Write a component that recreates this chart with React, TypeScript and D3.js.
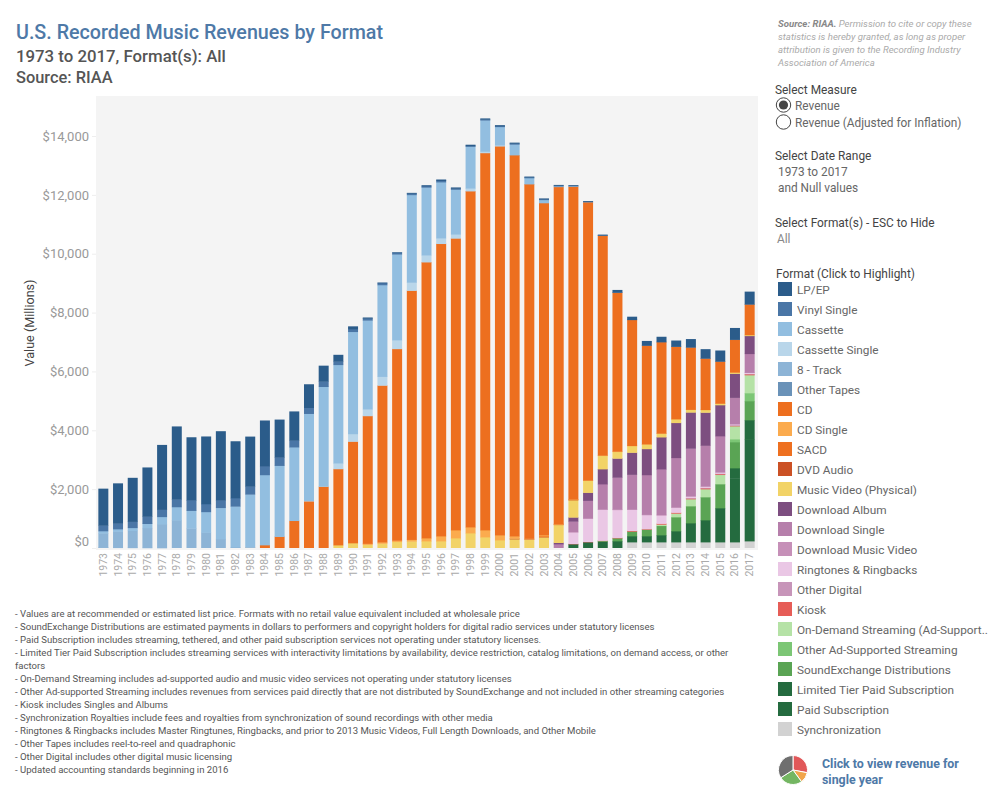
import * as d3 from 'd3';
import { useEffect, useRef } from 'react';

const FONT = 'Roboto, "Noto Sans", sans-serif';

const years = d3.range(1973, 2018).map(String);

// zero-fill the years before a format existed
const since = (year: number, vals: number[]) => [
  ...new Array(year - 1973).fill(0),
  ...vals,
  ...new Array(Math.max(0, 2018 - year - vals.length)).fill(0),
];

const lpEp = [1246, 1356, 1485, 1663, 2195, 2473, 2136, 2290, 2342, 1925, 1689, 1548, 1281, 983, 793, 532, 220, 86, 29, 13, 11, 18, 25, 37, 33, 34, 32, 28, 27, 21, 22, 19, 14, 16, 23, 80, 100, 150, 170, 200, 270, 306, 362, 390, 420];
const vinylSingle = [190, 194, 211, 245, 245, 260, 354, 269, 256, 283, 269, 298, 281, 228, 203, 180, 116, 94, 64, 66, 51, 47, 46, 48, 35, 26, 28, 26, 31, 24, 22, 20, 13, 10, 4, 3, 3, 3, 5, 5, 5, 5, 6, 6, 6];
const cassette = [76, 87, 98, 146, 249, 450, 604, 705, 1062, 1384, 1811, 2384, 2412, 2500, 2960, 3385, 3345, 3472, 3019, 3116, 2916, 2977, 2304, 1905, 1523, 1420, 1062, 626, 363, 209, 108, 24, 13, 1, 3, 1];
const cassetteSingle = since(1987, [14, 9, 194, 257, 230, 298, 299, 274, 236, 189, 134, 94, 48, 32]);
const eightTrack = [489, 549, 583, 678, 811, 948, 669, 526, 309, 35];
const otherTapes = [16, 11, 8, 5, 3];
const cd = since(1983, [17, 103, 390, 930, 1594, 2090, 2588, 3451, 4338, 5326, 6511, 8465, 9377, 9935, 9915, 11416, 12816, 13215, 12949, 12044, 11283, 11447, 10630, 9450, 7470, 5400, 4280, 3350, 3105, 2459, 2119, 1745, 1428, 1108, 1040]);
const cdSingle = since(1991, [35, 45, 45, 56, 102, 170, 272, 204, 238, 170, 79, 20, 36, 15, 10, 8, 12, 12, 3, 3, 3, 3, 3, 3, 3, 3, 3]);
const sacd = since(2003, [26, 16, 11, 3]);
const dvdAudio = since(2001, [20, 9, 8, 6, 3, 3]);
const musicVideo = since(1989, [102, 172, 118, 157, 214, 231, 238, 238, 340, 510, 374, 272, 306, 295, 374, 607, 590, 410, 453, 226, 227, 159, 125, 125, 90, 90, 50, 40, 30]);
const downloadAlbum = since(2004, [46, 135, 272, 510, 645, 748, 884, 1088, 1190, 1224, 1122, 1054, 816, 610]);
const downloadSingle = since(2004, [138, 362, 600, 850, 1087, 1178, 1349, 1553, 1677, 1620, 1382, 1224, 895, 640]);
const downloadMusicVideo = since(2005, [2, 10, 15, 15, 15, 12, 12, 12, 8, 8, 6, 4, 2]);
const ringtones = since(2005, [400, 790, 1054, 950, 714, 476, 283, 170, 50, 40, 40, 30, 30]);
const otherDigital = since(2013, [20, 20, 20, 20, 20]);
const kiosk = since(2005, [10, 10, 10, 12, 25, 15, 30, 30, 25, 30, 25, 20, 30]);
const onDemand = since(2011, [45, 125, 238, 272, 317, 442, 612]);
const otherAd = since(2016, [100, 272]);
const soundExchange = since(2007, [20, 100, 159, 227, 317, 476, 578, 782, 816, 884, 646]);
const limitedTier = since(2016, [350, 650]);
const paidSubscription = since(2005, [136, 204, 226, 238, 204, 204, 238, 374, 646, 748, 1156, 2165, 3463]);
const synchronization = since(2009, [204, 204, 204, 204, 204, 204, 204, 204, 238]);

const formats = [
  { name: 'LP/EP', color: '#2b5c8a', vals: lpEp },
  { name: 'Vinyl Single', color: '#4a76a6', vals: vinylSingle },
  { name: 'Cassette', color: '#92bee0', vals: cassette },
  { name: 'Cassette Single', color: '#b9d6ea', vals: cassetteSingle },
  { name: '8 - Track', color: '#8db4d6', vals: eightTrack },
  { name: 'Other Tapes', color: '#6a92b8', vals: otherTapes },
  { name: 'CD', color: '#ed6f1f', vals: cd },
  { name: 'CD Single', color: '#fbab4e', vals: cdSingle },
  { name: 'SACD', color: '#ee7020', vals: sacd },
  { name: 'DVD Audio', color: '#cb5125', vals: dvdAudio },
  { name: 'Music Video (Physical)', color: '#f2d367', vals: musicVideo },
  { name: 'Download Album', color: '#7d4e80', vals: downloadAlbum },
  { name: 'Download Single', color: '#b67fab', vals: downloadSingle },
  { name: 'Download Music Video', color: '#c690b8', vals: downloadMusicVideo },
  { name: 'Ringtones & Ringbacks', color: '#eac7e5', vals: ringtones },
  { name: 'Other Digital', color: '#c795b9', vals: otherDigital },
  { name: 'Kiosk', color: '#e65d57', vals: kiosk },
  { name: 'On-Demand Streaming (Ad-Support..', color: '#b5e2a6', vals: onDemand },
  { name: 'Other Ad-Supported Streaming', color: '#7cc675', vals: otherAd },
  { name: 'SoundExchange Distributions', color: '#5aa454', vals: soundExchange },
  { name: 'Limited Tier Paid Subscription', color: '#246b3f', vals: limitedTier },
  { name: 'Paid Subscription', color: '#246b3f', vals: paidSubscription },
  { name: 'Synchronization', color: '#d2d2d2', vals: synchronization },
];

const yTicks = [0, 2000, 4000, 6000, 8000, 10000, 12000, 14000];

const footnotes = [
  '- Values are at recommended or estimated list price. Formats with no retail value equivalent included at wholesale price',
  '- SoundExchange Distributions are estimated payments in dollars to performers and copyright holders for digital radio services under statutory licenses',
  '- Paid Subscription includes streaming, tethered, and other paid subscription services not operating under statutory licenses.',
  '- Limited Tier Paid Subscription includes streaming services with interactivity limitations by availability, device restriction, catalog limitations, on demand access, or other',
  'factors',
  '- On-Demand Streaming includes ad-supported audio and music video services not operating under statutory licenses',
  '- Other Ad-supported Streaming includes revenues from services paid directly that are not distributed by SoundExchange and not included in other streaming categories',
  '- Kiosk includes Singles and Albums',
  '- Synchronization Royalties include fees and royalties from synchronization of sound recordings with other media',
  '- Ringtones & Ringbacks includes Master Ringtunes, Ringbacks, and prior to 2013 Music Videos, Full Length Downloads, and Other Mobile',
  '- Other Tapes includes reel-to-reel and quadraphonic',
  '- Other Digital includes other digital music licensing',
  '- Updated accounting standards beginning in 2016',
];

const sourceLines = [
  'statistics is hereby granted, as long as proper',
  'attribution is given to the Recording Industry',
  'Association of America',
];

const pieIconVals = [28, 12, 26, 34];
const pieIconColors = ['#e15759', '#f1a54a', '#74b662', '#6f6f6f'];

export default function App() {
  const ref = useRef<SVGSVGElement | null>(null);

  useEffect(() => {
    if (!ref.current) return;
    const svg = d3.select(ref.current);
    svg.selectAll('*').remove();
    svg.attr('font-family', FONT);

    const label = (
      x: number,
      y: number,
      txt: string,
      size: number,
      color: string,
      weight: string | number = 400,
    ) =>
      svg
        .append('text')
        .attr('x', x)
        .attr('y', y)
        .attr('dominant-baseline', 'central')
        .attr('font-size', size)
        .attr('font-weight', weight)
        .attr('fill', color)
        .text(txt);

    /* titles */
    label(16, 32.5, 'U.S. Recorded Music Revenues by Format', 19.7, '#4e79a7', 500);
    label(16, 55.5, '1973 to 2017, Format(s): All', 16.8, '#555555', 500);
    label(16, 77.5, 'Source: RIAA', 16.4, '#555555', 500);

    /* chart */
    const x = d3
      .scaleBand<string>()
      .domain(years)
      .range([96, 757])
      .paddingInner(0.32)
      .paddingOuter(0.16);
    const y = d3.scaleLinear().domain([0, 14000]).range([548, 136]);

    svg
      .append('rect')
      .attr('x', 96)
      .attr('y', 96)
      .attr('width', 662)
      .attr('height', 454)
      .attr('fill', '#f4f4f4');

    const rows = years.map((yr, i) => {
      const row: Record<string, any> = { year: yr };
      formats.forEach((f) => (row[f.name] = f.vals[i] ?? 0));
      return row;
    });

    // legend reads top down, the stack builds bottom up
    const stacked = d3
      .stack<Record<string, any>>()
      .keys(formats.map((f) => f.name).reverse())(rows);
    const colorOf = new Map(formats.map((f) => [f.name, f.color]));

    // upper layers paint last, so a small overlap hides the seams between segments
    svg
      .append('g')
      .selectAll('g')
      .data(stacked)
      .enter()
      .append('g')
      .attr('fill', (s) => colorOf.get(s.key) as string)
      .selectAll('rect')
      .data((s) => s.filter((d) => d[1] > d[0]))
      .enter()
      .append('rect')
      .attr('x', (d) => x(d.data.year) as number)
      .attr('width', x.bandwidth())
      .attr('y', (d) => y(d[1]))
      .attr('height', (d) => y(d[0]) - y(d[1]) + (d[0] > 0 ? 0.4 : 0));

    /* axes */
    const yAxis = svg
      .append('g')
      .attr('transform', 'translate(96,0)')
      .call(
        d3
          .axisLeft(y)
          .tickValues(yTicks)
          .tickSize(4)
          .tickPadding(3)
          .tickFormat((d) => d3.format('$,')(d as number)),
      );
    yAxis.select('.domain').remove();
    yAxis.selectAll('line').attr('stroke', '#eeeeee');
    yAxis
      .selectAll('text')
      .attr('font-family', FONT)
      .attr('font-size', 13)
      .attr('fill', '#999999');
    // the $0 label sits above its tick so it stays clear of the year labels
    yAxis
      .selectAll<SVGTextElement, number>('text')
      .filter((d) => d === 0)
      .attr('transform', 'translate(0,-7)');

    const xAxis = svg
      .append('g')
      .attr('transform', 'translate(0,548)')
      .call(d3.axisBottom(x).tickSize(0).tickPadding(0));
    xAxis.select('.domain').remove();
    xAxis
      .selectAll('text')
      .attr('font-family', FONT)
      .attr('font-size', 10.5)
      .attr('fill', '#aaaaaa')
      .attr('text-anchor', 'end')
      .attr('dominant-baseline', 'central')
      .attr('transform', 'translate(0,5) rotate(-90)')
      .attr('x', 0)
      .attr('y', 0)
      .attr('dy', 0);

    svg
      .append('text')
      .attr('transform', 'translate(29,323) rotate(-90)')
      .attr('text-anchor', 'middle')
      .attr('dominant-baseline', 'central')
      .attr('font-size', 12.6)
      .attr('fill', '#444444')
      .text('Value (Millions)');

    /* footnotes */
    footnotes.forEach((t, i) => label(15, 613 + i * 13, t, 9.57, '#555555'));

    /* right panel */
    const src = label(778, 23, '', 9.6, '#aaaaaa').attr('font-style', 'italic');
    src.append('tspan').attr('font-weight', 700).attr('fill', '#888888').text('Source: RIAA.');
    src.append('tspan').text(' Permission to cite or copy these');
    sourceLines.forEach((t, i) =>
      label(778, 36 + i * 13, t, 9.6, '#aaaaaa').attr('font-style', 'italic'),
    );

    label(775, 90, 'Select Measure', 11.9, '#444444');
    label(795, 106, 'Revenue', 11.85, '#666666');
    label(795, 123, 'Revenue (Adjusted for Inflation)', 11.85, '#666666');
    [105, 122].forEach((cy) =>
      svg
        .append('circle')
        .attr('cx', 783.5)
        .attr('cy', cy)
        .attr('r', 7.2)
        .attr('fill', 'white')
        .attr('stroke', '#444444'),
    );
    svg.append('circle').attr('cx', 783.5).attr('cy', 105).attr('r', 4.6).attr('fill', '#444444');

    label(775, 156, 'Select Date Range', 11.9, '#444444');
    label(778, 172, '1973 to 2017', 11.85, '#666666');
    label(778, 188, 'and Null values', 11.85, '#666666');
    label(775, 223, 'Select Format(s) - ESC to Hide', 11.9, '#444444');
    label(777, 239, 'All', 11.85, '#888888');
    label(776, 274, 'Format (Click to Highlight)', 11.9, '#444444');

    const legend = svg
      .append('g')
      .selectAll('g')
      .data(formats)
      .enter()
      .append('g')
      .attr('transform', (_, i) => `translate(778,${282 + i * 20})`);
    legend
      .append('rect')
      .attr('width', 14)
      .attr('height', 14)
      .attr('fill', (f) => f.color);
    legend
      .append('text')
      .attr('x', 19)
      .attr('y', 8)
      .attr('dominant-baseline', 'central')
      .attr('font-size', 11.8)
      .attr('fill', '#666666')
      .text((f) => f.name);

    /* pie icon */
    const pie = d3.pie<number>().sort(null)(pieIconVals);
    const arc = d3.arc<d3.PieArcDatum<number>>().innerRadius(0).outerRadius(14.5);
    svg
      .append('g')
      .attr('transform', 'translate(793,770)')
      .selectAll('path')
      .data(pie)
      .enter()
      .append('path')
      .attr('d', arc)
      .attr('fill', (_, i) => pieIconColors[i])
      .attr('stroke', 'white')
      .attr('stroke-width', 1);

    label(822, 763, 'Click to view revenue for', 12.4, '#4e79a7', 700);
    label(822, 779, 'single year', 12.4, '#4e79a7', 700);
  }, []);

  return (
    <svg
      ref={ref}
      width={999}
      height={799}
      style={{ position: 'absolute', left: 0, top: 0, display: 'block' }}
    />
  );
}
